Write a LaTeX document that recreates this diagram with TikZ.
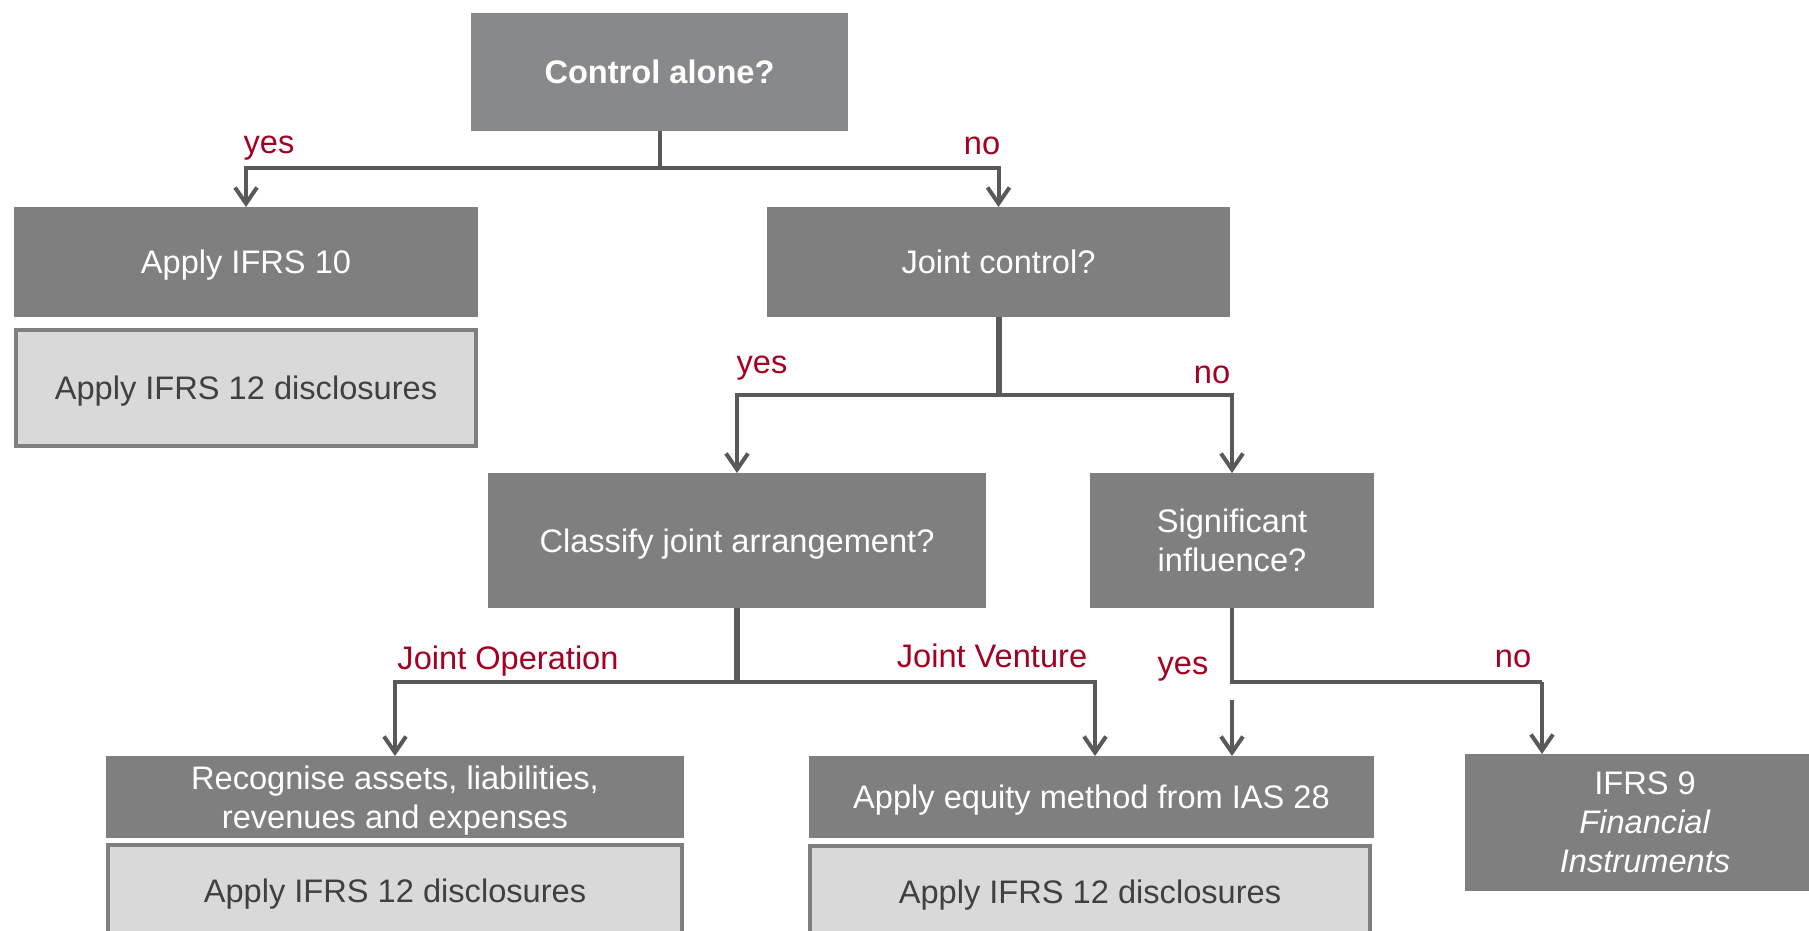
\documentclass[tikz,border=0pt]{standalone}
\usepackage{fontspec}
\setmainfont{Liberation Sans}
\usetikzlibrary{arrows.meta}
\definecolor{boxgray}{HTML}{7F7F7F}
\definecolor{topgray}{HTML}{88898B}
\definecolor{lightgray}{HTML}{D9D9D9}
\definecolor{linegray}{HTML}{595959}
\definecolor{labelred}{HTML}{A50021}
\definecolor{textdark}{HTML}{404040}
\tikzset{
  darkbox/.style={fill=boxgray, text=white, align=center, inner sep=0pt, outer sep=0pt},
  lightbox/.style={fill=lightgray, draw=boxgray, line width=4pt, text=textdark, align=center, inner sep=0pt, outer sep=0pt},
  oneline/.style={text height=30pt, text depth=7pt},
  conn/.style={draw=linegray, line width=4pt},
  stem/.style={draw=linegray, line width=6pt},
  arr/.style={conn, -{Straight Barb[length=16pt,width=22pt]}},
  lbl/.style={text=labelred, inner sep=0pt}
}
\begin{document}
\begin{tikzpicture}[x=1pt,y=-1pt, every node/.append style={font=\fontsize{32.6}{39}\selectfont}]
\useasboundingbox (0,0) rectangle (1809,931);
\fill[white] (0,0) rectangle (1809,931);
\clip (0,0) rectangle (1809,931);

% boxes
\node[darkbox, fill=topgray, minimum width=377pt, minimum height=118pt, font=\fontsize{32.6}{39}\selectfont\bfseries] (ctrl) at (659.5,72) {Control alone?};
\node[darkbox, oneline, minimum width=464pt, minimum height=110pt] (ifrs10) at (246,262) {Apply IFRS 10};
\node[lightbox, oneline, minimum width=460pt, minimum height=116pt] (disc1) at (246,388) {Apply IFRS 12 disclosures};
\node[darkbox, minimum width=463pt, minimum height=110pt] (joint) at (998.5,262) {Joint control?};
\node[darkbox, oneline, minimum width=498pt, minimum height=135pt] (classify) at (737,540.5) {Classify joint arrangement?};
\node[darkbox, minimum width=284pt, minimum height=135pt] (sig) at (1232,540.5) {Significant\\influence?};
\node[darkbox, text depth=0pt, minimum width=578pt, minimum height=82pt] (recog) at (395,797) {Recognise assets, liabilities,\\revenues and expenses};
\node[lightbox, oneline, minimum width=574pt, minimum height=92pt] (disc2) at (395,891) {Apply IFRS 12 disclosures};
\node[darkbox, oneline, minimum width=565pt, minimum height=82pt] (equity) at (1091.5,797) {Apply equity method from IAS 28};
\node[lightbox, oneline, minimum width=560pt, minimum height=92pt] (disc3) at (1090,892) {Apply IFRS 12 disclosures};
\node[darkbox, minimum width=360pt, minimum height=137pt] (ifrs9) at (1645,822.5) {IFRS 9\\\textit{Financial}\\\textit{Instruments}};

% connectors
\draw[conn] (ctrl.south) -- ++(0,37) coordinate (t1);
\draw[arr] (t1) -| (ifrs10.north);
\draw[arr] (t1) -| (joint.north);

\draw[stem] (joint.south) -- (998.5,395) coordinate (t2);
\draw[arr] (t2) -| (classify.north);
\draw[arr] (t2) -| (sig.north);

\draw[stem] (classify.south) -- (737,682) coordinate (t3);
\draw[arr] (t3) -| (recog.north);
\coordinate (jv) at (1095,682);
\draw[arr] (t3) -- (jv) -- (jv |- equity.north);

\coordinate (c9) at (1542,682);
\draw[conn] (sig.south) -- (sig.south |- c9) -- (c9);
\draw[arr] (c9) -- (c9 |- ifrs9.north);

\coordinate (ys) at (1232,700);
\draw[arr] (ys) -- (ys |- equity.north);

% labels
\node[lbl] (l1) at (269,148.5) {yes};
\node[lbl] (l2) at (982,145.5) {no};
\node[lbl] (l3) at (762,368) {yes};
\node[lbl] (l4) at (1212,374.5) {no};
\node[lbl] (l5) at (508,661.5) {Joint Operation};
\node[lbl] (l6) at (992,656) {Joint Venture};
\node[lbl] (l7) at (1183,669) {yes};
\node[lbl] (l8) at (1513,658.5) {no};
\end{tikzpicture}
\end{document}
